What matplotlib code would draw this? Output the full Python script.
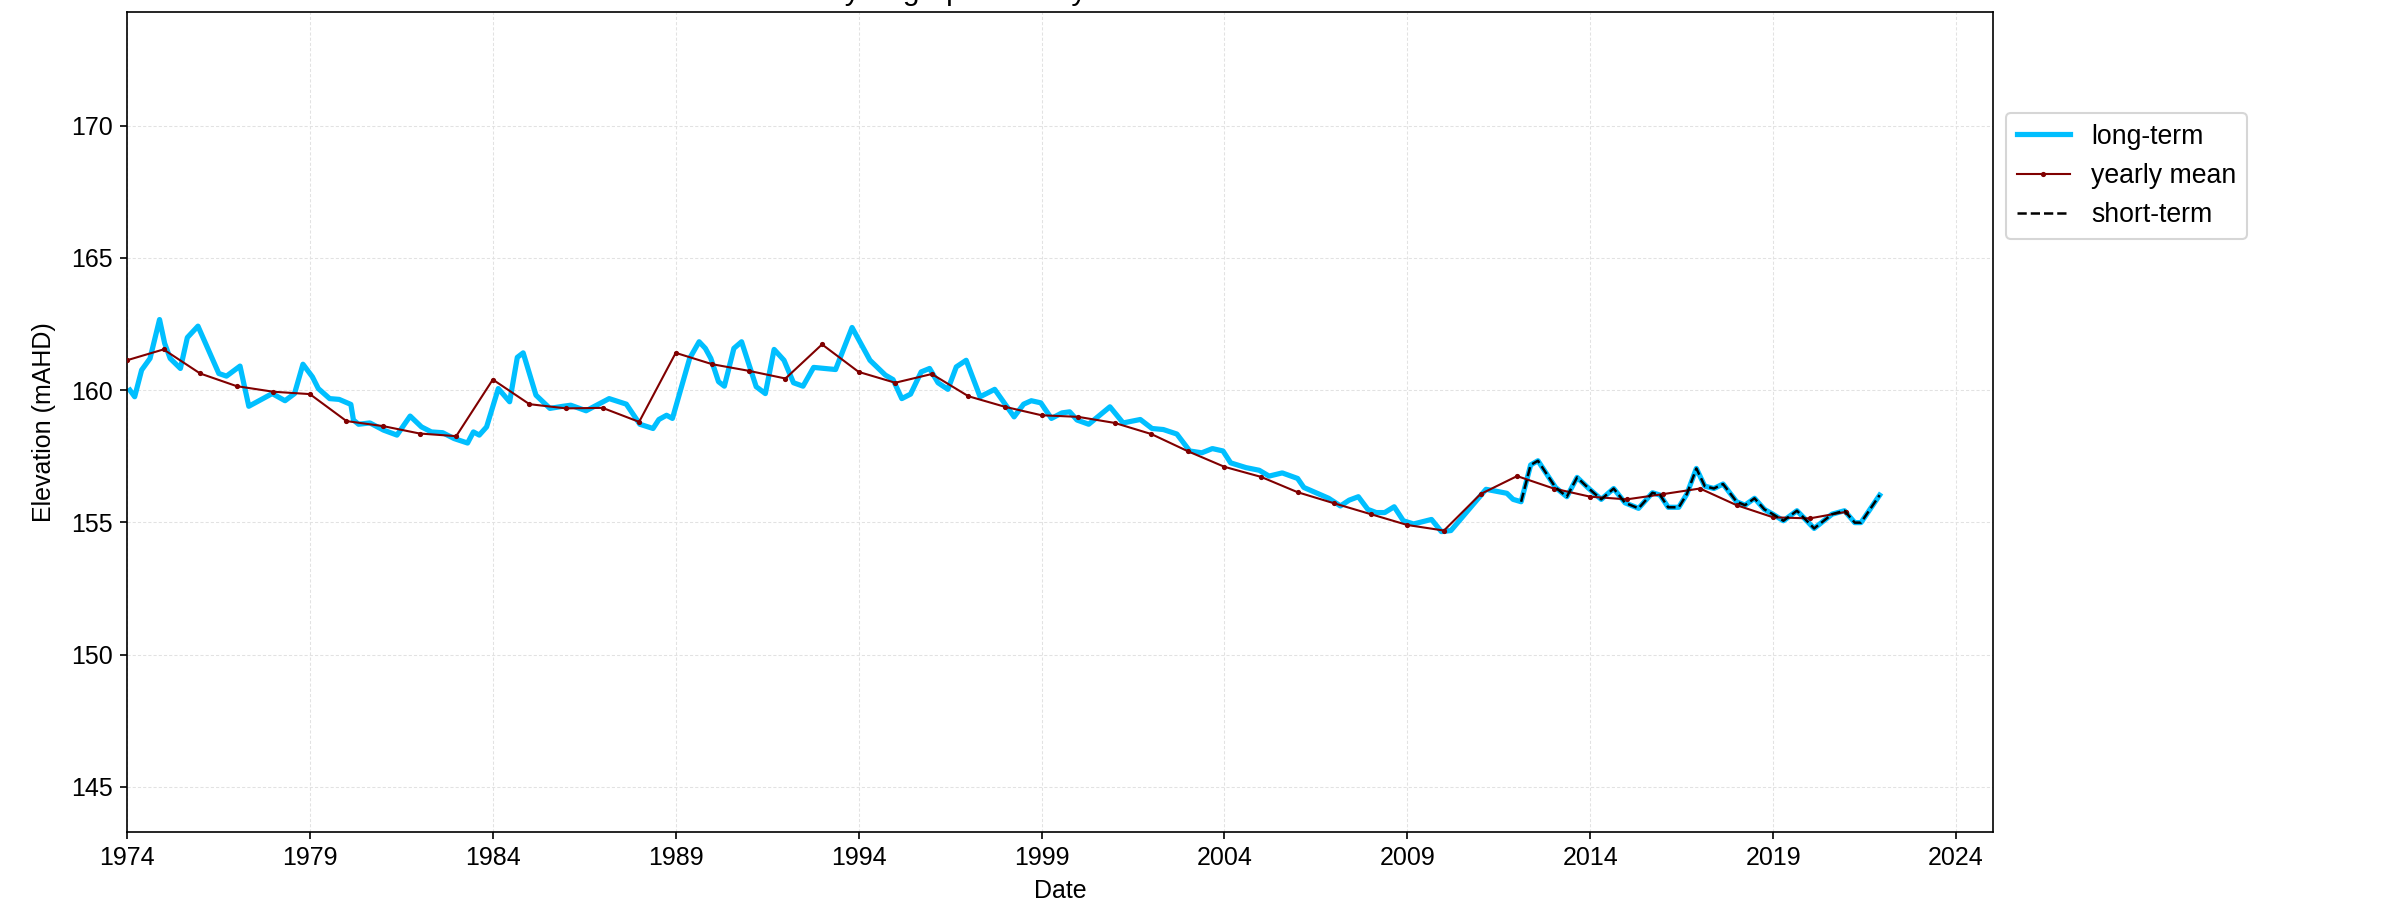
import matplotlib
matplotlib.use("Agg")
import matplotlib.pyplot as plt
import numpy as np

plt.rcParams['font.family'] = ['Liberation Sans', 'DejaVu Sans']

# ---- data (decimal years, elevation mAHD) ----
long_dates = [
    1974.08, 1974.21, 1974.40, 1974.63, 1974.89, 1975.03, 1975.18, 1975.46, 1975.65, 1975.94,
    1976.51, 1976.72, 1977.09, 1977.33, 1977.97, 1978.32, 1978.58, 1978.81, 1979.07, 1979.23,
    1979.54, 1979.80, 1980.12, 1980.19, 1980.33, 1980.64, 1981.01, 1981.38, 1981.74, 1982.05,
    1982.32, 1982.63, 1982.94, 1983.31, 1983.47, 1983.63, 1983.83, 1984.15, 1984.46, 1984.67,
    1984.83, 1985.18, 1985.56, 1985.92, 1986.13, 1986.55, 1987.18, 1987.65, 1988.02, 1988.38,
    1988.54, 1988.75, 1988.91, 1989.38, 1989.64, 1989.81, 1989.96, 1990.17, 1990.33, 1990.59,
    1990.80, 1991.20, 1991.45, 1991.69, 1991.96, 1992.22, 1992.48, 1992.77, 1993.37, 1993.82,
    1994.31, 1994.73, 1994.94, 1995.18, 1995.42, 1995.71, 1995.94, 1996.17, 1996.44, 1996.67,
    1996.94, 1997.32, 1997.72, 1998.25, 1998.51, 1998.72, 1998.98, 1999.27, 1999.56, 1999.77,
    1999.97, 2000.29, 2000.87, 2001.23, 2001.70, 2002.02, 2002.33, 2002.70, 2003.05, 2003.38,
    2003.67, 2003.96, 2004.17, 2004.59, 2004.95, 2005.22, 2005.58, 2006.00, 2006.17, 2006.85,
    2007.17, 2007.41, 2007.66, 2007.92, 2008.15, 2008.38, 2008.64, 2008.89, 2009.17, 2009.66,
    2009.93, 2010.19, 2011.15, 2011.72, 2011.89, 2012.11, 2012.37, 2012.57, 2013.05, 2013.36,
    2013.64, 2013.96, 2014.30, 2014.64, 2014.95, 2015.32, 2015.70, 2015.91, 2016.13, 2016.42,
    2016.64, 2016.90, 2017.13, 2017.38, 2017.63, 2018.00, 2018.23, 2018.49, 2018.76, 2018.99,
    2019.28, 2019.65, 2020.12, 2020.61, 2020.95, 2021.23, 2021.40, 2021.91,
]
long_levels = [
    160.00, 159.75, 160.76, 161.20, 162.67, 161.77, 161.20, 160.82, 161.99, 162.42,
    160.63, 160.53, 160.91, 159.39, 159.87, 159.60, 159.87, 160.98, 160.50, 160.06,
    159.68, 159.65, 159.46, 158.87, 158.71, 158.76, 158.49, 158.30, 159.02, 158.61,
    158.42, 158.39, 158.17, 158.00, 158.42, 158.30, 158.61, 160.06, 159.56, 161.24,
    161.41, 159.81, 159.31, 159.39, 159.43, 159.22, 159.68, 159.47, 158.71, 158.55,
    158.89, 159.05, 158.93, 161.20, 161.83, 161.58, 161.20, 160.32, 160.15, 161.58,
    161.83, 160.13, 159.87, 161.54, 161.13, 160.28, 160.15, 160.86, 160.78, 162.37,
    161.13, 160.57, 160.40, 159.68, 159.85, 160.69, 160.82, 160.28, 160.03, 160.88,
    161.13, 159.75, 160.03, 158.99, 159.47, 159.60, 159.52, 158.93, 159.14, 159.18,
    158.87, 158.71, 159.37, 158.76, 158.89, 158.55, 158.51, 158.34, 157.70, 157.63,
    157.79, 157.70, 157.25, 157.07, 156.97, 156.75, 156.87, 156.66, 156.32, 155.91,
    155.62, 155.84, 155.97, 155.49, 155.37, 155.37, 155.59, 155.06, 154.94, 155.11,
    154.65, 154.69, 156.25, 156.10, 155.87, 155.78, 157.17, 157.33, 156.32, 155.97,
    156.70, 156.28, 155.87, 156.28, 155.74, 155.53, 156.12, 156.03, 155.57, 155.57,
    156.07, 157.04, 156.37, 156.28, 156.45, 155.78, 155.65, 155.91, 155.49, 155.31,
    155.06, 155.44, 154.77, 155.31, 155.44, 154.99, 154.99, 156.03,
]

yearly_years = list(range(1974, 2022))
yearly_means = [
    161.13, 161.54, 160.63, 160.15, 159.94, 159.85, 158.83, 158.64, 158.36, 158.26,
    160.40, 159.47, 159.31, 159.33, 158.80, 161.41, 160.98, 160.73, 160.44, 161.73,
    160.69, 160.28, 160.61, 159.77, 159.37, 159.05, 158.99, 158.76, 158.34, 157.69,
    157.10, 156.72, 156.14, 155.72, 155.31, 154.90, 154.69, 156.07, 156.75, 156.28,
    155.97, 155.87, 156.07, 156.28, 155.65, 155.19, 155.15, 155.40,
]

short_term_start = 2012.1
x_tick_years = list(range(1974, 2025, 5))

title_text = "Hydrograph data by bore 60801031"

# ---- figure ----
fig = plt.figure(figsize=(2387 / 150, 910 / 150), dpi=150)
ax = fig.add_axes([0.0532, 0.0860, 0.8348 - 0.0532, 0.9868 - 0.0860])

ld = np.array(long_dates)
lv = np.array(long_levels)
mask = ld >= short_term_start

ax.plot(ld, lv, color='#00BFFF', lw=2.5, label='long-term', zorder=2)
ax.plot(yearly_years, yearly_means, color='#800000', lw=1.0, marker='o',
        markersize=1.5, label='yearly mean', zorder=3)
ax.plot(ld[mask], lv[mask], color='black', lw=1.2, ls='--', label='short-term', zorder=4)

ax.set_xlim(1974.0, 2025.0)
ax.set_ylim(143.3, 174.3)
ax.set_xticks(x_tick_years)
ax.set_xticklabels([str(y) for y in x_tick_years])
ax.set_yticks([145, 150, 155, 160, 165, 170])
ax.tick_params(labelsize=12)
ax.grid(True, color='#e2e2e2', ls=(0, (3, 2)), lw=0.5)
ax.set_axisbelow(True)

ax.set_xlabel('Date', fontsize=12)
ax.set_ylabel('Elevation (mAHD)', fontsize=12, labelpad=7)
ax.set_title(title_text, fontsize=14.4)

ax.legend(loc='center left', bbox_to_anchor=(1.0, 0.8), fontsize=12.8)

fig.savefig('out.png', dpi=150)
